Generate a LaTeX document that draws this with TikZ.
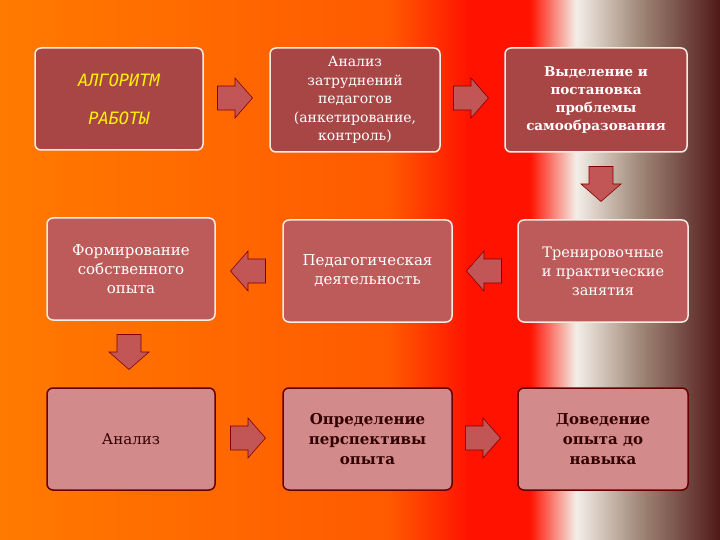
\documentclass[tikz,border=0pt]{standalone}
\usepackage{fontspec}
\setmainfont{DejaVu Serif}
\newfontfamily\monof{DejaVu Sans Mono}
\definecolor{og}{HTML}{FF7A00}
\definecolor{og2}{HTML}{FF5A00}
\definecolor{rd}{HTML}{FF1200}
\definecolor{wt}{HTML}{F4EEE8}
\definecolor{gy}{HTML}{A08878}
\definecolor{dk}{HTML}{501818}
\pgfdeclarehorizontalshading{bgsh}{100bp}{color(0bp)=(og);color(25bp)=(og);color(52bp)=(og2);color(57.6bp)=(rd);color(61.8bp)=(rd);color(65bp)=(wt);color(69.4bp)=(gy);color(75bp)=(dk);color(100bp)=(dk)}
\definecolor{bA}{HTML}{A84646}
\definecolor{bB}{HTML}{BD5A5A}
\definecolor{bC}{HTML}{D38A8A}
\definecolor{arr}{HTML}{C25555}
\tikzset{x=1pt,y=-1pt,
 bx/.style={draw=white!85!brown,line width=1.5pt,rounded corners=6pt,fill=bA,text=white,align=center},
 arrsty/.style={draw=black!50!red,fill=arr,line width=0.6pt}}
\newcommand\bigarrow[3]{\draw[arrsty,shift={(#1,#2)},rotate=#3] (-17.5,-12) -- (0,-12) -- (0,-20) -- (17.5,0) -- (0,20) -- (0,12) -- (-17.5,12) -- cycle;}
\begin{document}
\begin{tikzpicture}
\fill[shading=bgsh] (0,0) rectangle (720,540);
\useasboundingbox (0,0) rectangle (720,540);
\newcommand\bxat[6]{\node[bx,#6,minimum width=#3-#1,minimum height=#4-#2] (#5) at ({(#1+#3)/2},{(#2+#4)/2}) {};}
\bxat{35}{48}{203}{150}{b1}{}
\bxat{270}{48}{440}{152}{b2}{}
\bxat{505}{48}{687}{152}{b3}{}
\bxat{47}{218}{215}{320}{b4}{fill=bB}
\bxat{283}{220}{452}{322}{b5}{fill=bB}
\bxat{518}{220}{688}{322}{b6}{fill=bB}
\bxat{47}{388}{215}{490}{b7}{fill=bC,draw=black!60!red}
\bxat{283}{388}{452}{490}{b8}{fill=bC,draw=black!60!red}
\bxat{518}{388}{688}{490}{b9}{fill=bC,draw=black!60!red}
\node[text=yellow,font=\monof\itshape\fontsize{17}{38}\selectfont,align=center] at (b1) {АЛГОРИТМ\\РАБОТЫ};
\node[text=white,align=center,font=\fontsize{14}{18.5}\selectfont] at (b2) {Анализ\\затруднений\\педагогов\\(анкетирование,\\контроль)};
\node[text=white,align=center,font=\bfseries\fontsize{13.5}{18}\selectfont] at (b3) {Выделение и\\постановка\\проблемы\\самообразования};
\node[text=white,align=center,font=\fontsize{15}{19}\selectfont] at (b4) {Формирование\\собственного\\опыта};
\node[text=white,align=center,font=\fontsize{15}{19}\selectfont] at (b5) {Педагогическая\\деятельность};
\node[text=white,align=center,font=\fontsize{14.5}{19}\selectfont] at (b6) {Тренировочные\\и практические\\занятия};
\node[text=black!80!red,align=center,font=\fontsize{15}{19}\selectfont] at (b7) {Анализ};
\node[text=black!80!red,align=center,font=\bfseries\fontsize{15}{20}\selectfont] at (b8) {Определение\\перспективы\\опыта};
\node[text=black!80!red,align=center,font=\bfseries\fontsize{15}{20}\selectfont] at (b9) {Доведение\\опыта до\\навыка};
\bigarrow{235}{98}{0}
\bigarrow{471}{98}{0}
\bigarrow{601}{184}{-90}
\bigarrow{248}{271}{180}
\bigarrow{484}{271}{180}
\bigarrow{129}{352}{-90}
\bigarrow{248}{438}{0}
\bigarrow{483}{438}{0}
\end{tikzpicture}
\end{document}
